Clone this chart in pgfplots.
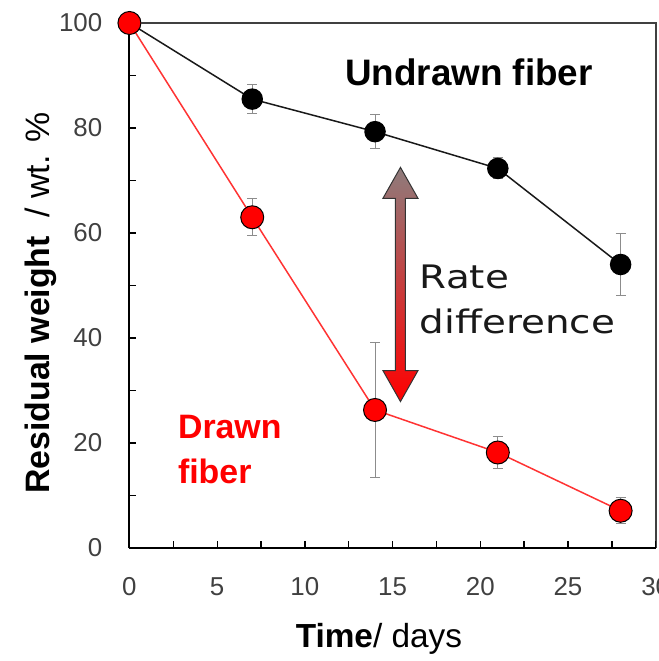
\documentclass[border=0pt]{standalone}
\usepackage{fontspec}
\setmainfont{Liberation Sans}
\newfontfamily\ratefont[FakeStretch=1.2]{DejaVu Sans}
\usepackage{pgfplots}
\pgfplotsset{compat=1.18}
\definecolor{tickgray}{HTML}{404040}
\definecolor{errgray}{HTML}{8C8C8C}
\definecolor{lred}{HTML}{FF3333}
\definecolor{arrtop}{HTML}{8E7C7C}
\definecolor{arrmid}{HTML}{E88A8A}
\begin{document}
\begin{tikzpicture}
% frame: top and right edges
\begin{axis}[
  at={(0,0)}, anchor=south west,
  scale only axis, width=526.5bp, height=525.3bp,
  xmin=0, xmax=30, ymin=0, ymax=100,
  axis x line*=top, axis y line*=right,
  axis line style={black!75, line width=1.6bp, -},
  xtick=\empty, ytick=\empty,
]
\end{axis}
\begin{axis}[
  at={(0,0)}, anchor=south west,
  scale only axis, width=526.5bp, height=525.3bp,
  xmin=0, xmax=30, ymin=0, ymax=100,
  axis x line*=bottom, axis y line*=left,
  axis line style={black, line width=2bp, -},
  xtick={0,5,...,30}, ytick={0,20,...,100},
  minor x tick num=1, minor y tick num=1,
  tick align=inside,
  major tick length=7bp, minor tick length=7bp,
  every tick/.style={black, line width=1.3bp},
  /pgf/number format/assume math mode=true,
  ticklabel style={font=\fontsize{26}{30}\selectfont, text=tickgray},
  xticklabel style={anchor=north, inner sep=0pt, yshift=-29bp},
  yticklabel style={anchor=east, inner sep=0pt, xshift=-27bp},
  clip=false,
  xlabel={\textbf{Time}/ days},
  ylabel={\textbf{Residual weight}\ \ / wt. \%},
  xlabel style={font=\fontsize{33.5}{38}\selectfont, anchor=base, at={(axis description cs:0.474,-0.1885)}},
  ylabel style={font=\fontsize{34}{38}\selectfont, anchor=base, at={(axis description cs:-0.151,0.4664)}},
]
% arrow
\draw[top color=arrtop, middle color=arrmid, bottom color=red, draw=black!80, line width=1bp]
  (axis cs:15.45,72.5) -- (axis cs:16.45,66.6) -- (axis cs:15.735,66.6) -- (axis cs:15.735,33.8)
  -- (axis cs:16.45,33.8) -- (axis cs:15.45,27.9) -- (axis cs:14.45,33.8) -- (axis cs:15.165,33.8)
  -- (axis cs:15.165,66.6) -- (axis cs:14.45,66.6) -- cycle;

\addplot[black!90, line width=1.5bp, mark=*, mark size=10bp, mark options={fill=black, draw=black},
  error bars/.cd, y dir=both, y explicit,
  error bar style={errgray, line width=1bp},
  error mark options={errgray, line width=1bp, mark size=5bp, rotate=90}]
  coordinates {(0,100) +- (0,0) (7,85.5) +- (0,2.7) (14,79.3) +- (0,3.2) (21,72.3) +- (0,2.0) (28,54.0) +- (0,5.9)};

\addplot[lred, line width=1.5bp, mark=*, mark size=11.5bp, mark options={fill=red, draw=black, line width=1bp},
  error bars/.cd, y dir=both, y explicit,
  error bar style={errgray, line width=1bp},
  error mark options={errgray, line width=1bp, mark size=5bp, rotate=90}]
  coordinates {(0,100) +- (0,0) (7,63.0) +- (0,3.5) (14,26.3) +- (0,12.9) (21,18.2) +- (0,3.0) (28,7.1) +- (0,2.5)};

\node[anchor=base west, inner sep=0pt, font=\fontsize{37}{40}\selectfont\bfseries] at (axis cs:12.28,88.14) {Undrawn fiber};
\node[anchor=base west, inner sep=0pt, font=\ratefont\fontsize{32.5}{36}\selectfont, text=black!90] at (axis cs:16.55,49.5) {Rate};
\node[anchor=base west, inner sep=0pt, font=\ratefont\fontsize{32.5}{36}\selectfont, text=black!90] at (axis cs:16.55,40.93) {difference};
\node[anchor=base west, inner sep=0pt, font=\fontsize{34}{38}\selectfont\bfseries, text=red] at (axis cs:2.76,20.94) {Drawn};
\node[anchor=base west, inner sep=0pt, font=\fontsize{34}{38}\selectfont\bfseries, text=red] at (axis cs:2.76,12.37) {fiber};
\end{axis}
\draw[black!75, line width=1.6bp] (12bp,525.3bp) -- (527.3bp,525.3bp);
\pgfresetboundingbox
\path[use as bounding box] (-129.5bp,-113bp) rectangle (529.5bp,548.3bp);
\end{tikzpicture}
\end{document}
